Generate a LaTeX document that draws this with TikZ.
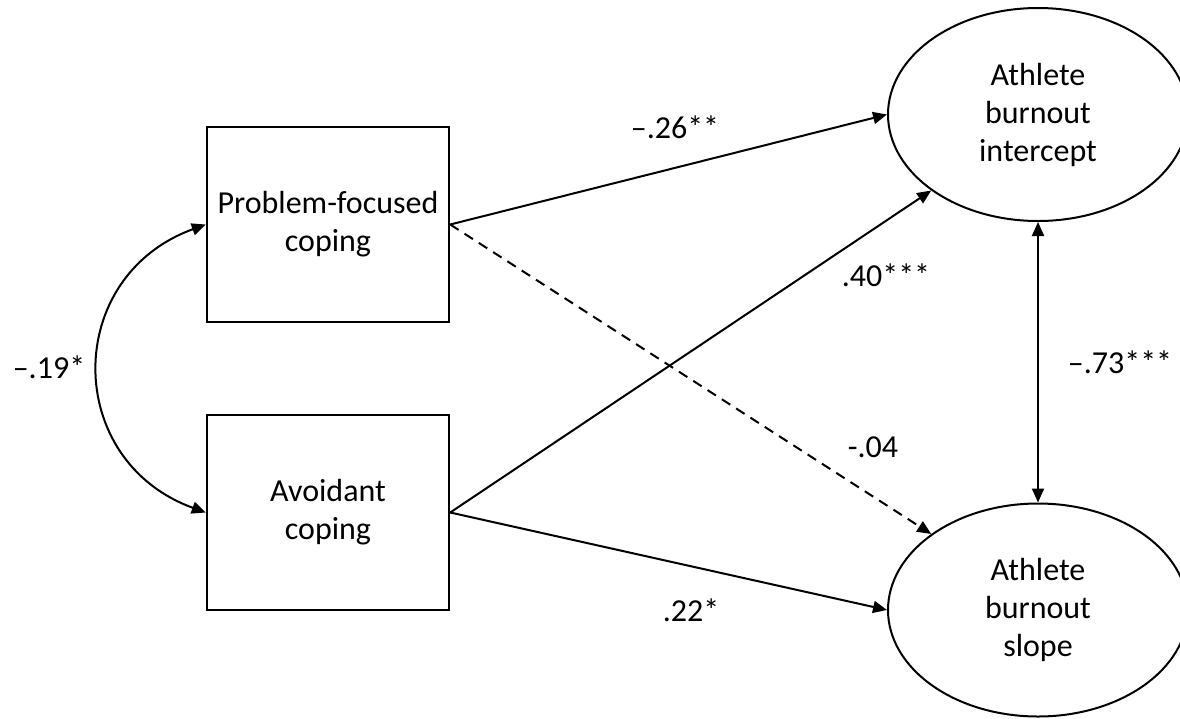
\documentclass[tikz,border=0pt]{standalone}
\usepackage{fontspec}
\setmainfont{Carlito}
\usetikzlibrary{arrows.meta,positioning,shapes.geometric}

\begin{document}
\begin{tikzpicture}[x=1pt,y=-1pt,
  every node/.style={font=\fontsize{32}{38}\selectfont},
  obsbox/.style={rectangle,draw,line width=2.4pt,minimum width=242pt,minimum height=195pt,align=center,inner sep=0pt},
  latent/.style={ellipse,draw,line width=2pt,minimum width=300pt,minimum height=213pt,align=center,inner sep=0pt},
  effect/.style={line width=2pt,-{Triangle[length=14pt,width=12pt]}},
  covar/.style={line width=2pt,{Triangle[length=14pt,width=12pt]}-{Triangle[length=14pt,width=12pt]}}]
\useasboundingbox (0,0) rectangle (1180,718);
% Left: coping strategies
\node[obsbox] (pfc) at (328,224.5) {Problem-focused\\coping};
\node[obsbox] (avc) at (328,512.5) {Avoidant\\coping};

% Right: burnout growth factors
\node[latent] (int) at (1038,114.5) {Athlete\\burnout\\intercept};
\node[latent] (slp) at (1038,610) {Athlete\\burnout\\slope};

% Paths
\draw[effect] (pfc.east) -- (int.west);
\draw[effect] (avc.east) -- (int.south west);
\draw[effect,dash pattern=on 10pt off 7pt] (pfc.east) -- (slp.north west);
\draw[effect] (avc.east) -- (slp.west);
\draw[covar] (int.south) -- (slp.north);
\draw[covar] (pfc.west) .. controls +(-143,52) and +(-143,-52) .. (avc.west);

% Coefficients
\node (b26) at (675,127) {\textendash.26**};
\node (b40) at (886,275) {.40***};
\node (b04) at (873,447) {-.04};
\node (b22) at (691,610) {.22*};
\node (r73) at (1120,362) {\textendash.73***};
\node (r19) at (49,367) {\textendash.19*};
\end{tikzpicture}
\end{document}
